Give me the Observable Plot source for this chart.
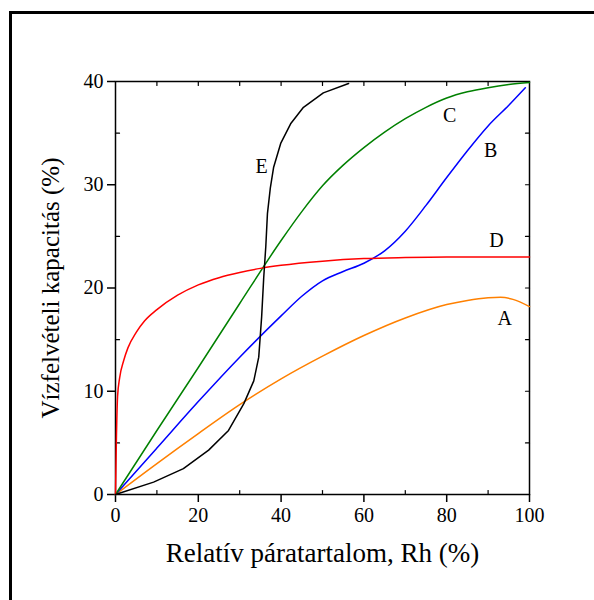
<!DOCTYPE html>
<html>
<head>
<meta charset="utf-8">
<script src="https://cdn.jsdelivr.net/npm/d3@7"></script>
<script src="https://cdn.jsdelivr.net/npm/@observablehq/plot@0.6"></script>
<style>
  body { margin: 0; background: #fff; }
  svg, svg text { font-family: "Liberation Serif", "Times New Roman", serif !important; }
</style>
</head>
<body>
<div id="chart"></div>
<script>
// ---- data ----
const rhA = [0, 10, 20, 30, 40, 50, 60, 70, 80, 85, 90, 93, 96, 100];
const capA = [0, 3, 5.9, 8.7, 11.2, 13.4, 15.4, 17.1, 18.4, 18.8, 19.05, 19.1, 18.9, 18.2];

const rhB = [0, 10, 20, 30, 40, 45, 50, 55, 60, 65, 70, 75, 80, 85, 90, 95, 99];
const capB = [0, 4.5, 9, 13.3, 17.3, 19.2, 20.7, 21.6, 22.4, 23.6, 25.5, 28, 30.7, 33.3, 35.7, 37.7, 39.4];

const rhC = [0, 10, 20, 30, 40, 45, 50, 55, 60, 65, 70, 75, 80, 85, 90, 95, 100];
const capC = [0, 6.2, 12.3, 18.5, 24.6, 27.4, 29.9, 31.9, 33.6, 35.1, 36.4, 37.5, 38.4, 39, 39.4, 39.7, 39.9];

const rhD = [0, 0.2, 0.5, 1, 2, 3, 5, 7, 10, 15, 20, 25, 30, 35, 40, 50, 60, 70, 80, 90, 100];
const capD = [0, 5, 9.5, 11.3, 13, 14.2, 15.7, 16.8, 17.9, 19.3, 20.3, 21, 21.5, 21.9, 22.2, 22.6, 22.85, 22.95, 23, 23, 23];

const rhE = [0, 9.2, 16.4, 22.5, 27.3, 31, 33.4, 34.6, 35.3, 35.8, 36.3, 36.7, 37.4, 38.2, 39.9, 42.3, 45.4, 50.2, 56.3];
const capE = [0, 1.2, 2.5, 4.3, 6.2, 8.8, 11, 13.3, 17.2, 21, 24, 27.2, 29.7, 31.7, 34, 35.9, 37.5, 38.9, 39.8];

const seriesNames = ["A", "B", "C", "D", "E"];
const seriesColors = ["#ff8000", "#0000ff", "#008000", "#ff0000", "#000000"];
const labelX = [94, 90.6, 80.7, 92, 35.3];
const labelY = [17, 33.3, 36.7, 24.6, 31.8];

const xTicks = [0, 20, 40, 60, 80, 100];
const yTicks = [0, 10, 20, 30, 40];
const xMinor = [10, 30, 50, 70, 90];
const yMinor = [5, 15, 25, 35];
const xTopTicks = [10, 20, 30, 40, 50, 60, 70, 80, 90];
const yRightTicks = [5, 10, 15, 20, 25, 30, 35];

const xTitle = "Relatív páratartalom, Rh (%)";
const yTitle = "Vízfelvételi kapacitás (%)";

// ---- build table ----
const toRows = (name, xs, ys) => xs.map((x, i) => ({series: name, rh: x, cap: ys[i]}));
const rowsA = toRows("A", rhA, capA);
const rowsB = toRows("B", rhB, capB);
const rowsC = toRows("C", rhC, capC);
const rowsD = toRows("D", rhD, capD);
const rowsE = toRows("E", rhE, capE);
const labels = seriesNames.map((s, i) => ({s, x: labelX[i], y: labelY[i]}));

const tickShape = {draw(ctx, l) { ctx.moveTo(0, 0); ctx.lineTo(0, -l); }};
const font = "'Liberation Serif', 'Times New Roman', serif";

const chart = Plot.plot({
  width: 594,
  height: 600,
  marginLeft: 115,
  marginRight: 65,
  marginTop: 81,
  marginBottom: 106,
  style: {fontFamily: font, background: "#fff"},
  x: {domain: [0, 100]},
  y: {domain: [0, 40]},
  marks: [
    Plot.frame({stroke: "#000", strokeWidth: 1.5}),
    Plot.axisX(xTicks, {anchor: "bottom", tickSize: 8, tickPadding: 5, fontSize: 20, fontFamily: font, strokeWidth: 1.5, label: null, tickFormat: d => d}),
    Plot.axisY(yTicks, {anchor: "left", tickSize: 8, tickPadding: 4, fontSize: 20, fontFamily: font, strokeWidth: 1.5, label: null, tickFormat: d => d}),
    Plot.vectorY(xMinor, {x: d => d, y: () => 0, length: 4, rotate: 0, anchor: "start", shape: tickShape, strokeWidth: 1.2}),
    Plot.vectorY(yMinor, {x: () => 0, y: d => d, length: 4, rotate: 90, anchor: "start", shape: tickShape, strokeWidth: 1.2}),
    Plot.vectorY(xTopTicks, {x: d => d, y: () => 40, length: 4, rotate: 180, anchor: "start", shape: tickShape, strokeWidth: 1.2}),
    Plot.vectorY(yRightTicks, {x: () => 100, y: d => d, length: 4, rotate: 270, anchor: "start", shape: tickShape, strokeWidth: 1.2}),
    Plot.line(rowsA, {x: "rh", y: "cap", stroke: seriesColors[0], strokeWidth: 1.5, curve: "monotone-x"}),
    Plot.line(rowsB, {x: "rh", y: "cap", stroke: seriesColors[1], strokeWidth: 1.5, curve: "monotone-x"}),
    Plot.line(rowsC, {x: "rh", y: "cap", stroke: seriesColors[2], strokeWidth: 1.5, curve: "monotone-x"}),
    Plot.line(rowsD, {x: "rh", y: "cap", stroke: seriesColors[3], strokeWidth: 1.5, curve: "monotone-x"}),
    Plot.line(rowsE, {x: "rh", y: "cap", stroke: seriesColors[4], strokeWidth: 1.5, curve: "linear"}),
    Plot.text(labels, {x: "x", y: "y", text: "s", fontSize: 20, fontFamily: font, fill: "#000"}),
    Plot.text([xTitle], {frameAnchor: "bottom", textAnchor: "middle", dy: 67, fontSize: 27, fontFamily: font, fill: "#000"}),
    Plot.text([yTitle], {frameAnchor: "left", textAnchor: "middle", dx: -65, rotate: -90, fontSize: 25, fontFamily: font, fill: "#000"})
  ]
});

d3.select(chart).append("rect")
  .attr("x", 10.5).attr("y", 12.5)
  .attr("width", 620).attr("height", 620)
  .attr("fill", "none").attr("stroke", "#000").attr("stroke-width", 3);

document.getElementById("chart").appendChild(chart);
</script>
</body>
</html>
